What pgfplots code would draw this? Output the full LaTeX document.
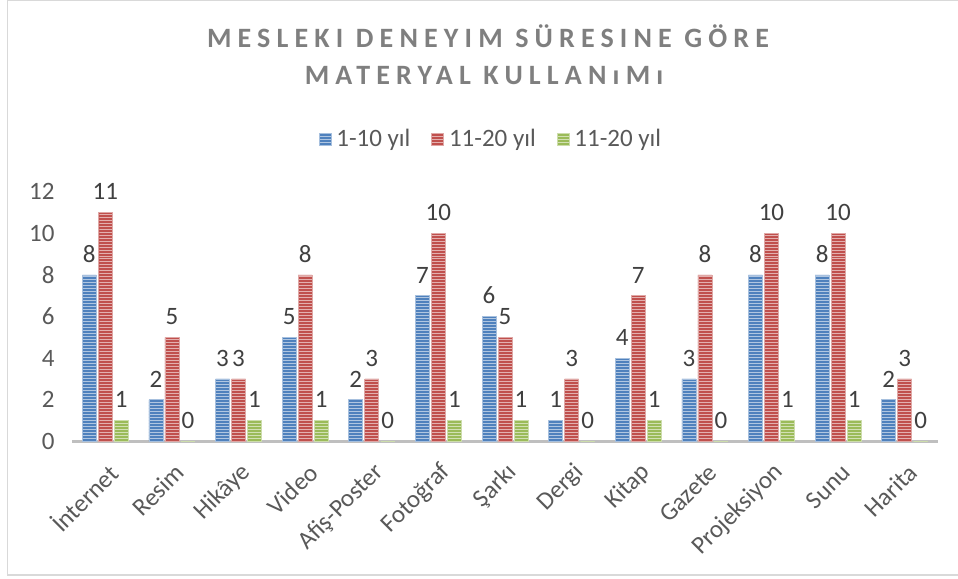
\documentclass[border=0pt]{standalone}
\usepackage{pgfplots}
\pgfplotsset{compat=1.18}
\usepackage{pgfplotstable}
\usepackage{fontspec}
\setmainfont{Carlito}
\newfontfamily\titlefont[LetterSpace=22]{Carlito}
\usetikzlibrary{patterns}
\definecolor{cblue}{HTML}{4F81BD}
\definecolor{cred}{HTML}{C0504D}
\definecolor{cgreen}{HTML}{9BBB59}
\definecolor{tickc}{HTML}{595959}
\definecolor{labc}{HTML}{404040}
\definecolor{ttlc}{HTML}{7F7F7F}
\definecolor{axlc}{HTML}{BFBFBF}
\definecolor{frmc}{HTML}{D9D9D9}
\newcommand\lblfont{\fontsize{25bp}{29bp}\selectfont}

\pgfplotstableread{
x a b c
0 8 11 1
1 2 5 0
2 3 3 1
3 5 8 1
4 2 3 0
5 7 10 1
6 6 5 1
7 1 3 0
8 4 7 1
9 3 8 0
10 8 10 1
11 8 10 1
12 2 3 0
}\datatable

\begin{document}
\begin{tikzpicture}
\useasboundingbox (0,0) rectangle (958bp,579bp);
\draw[frmc, line width=1.2bp] (958bp,578.5bp) -- (7.5bp,578.5bp) -- (7.5bp,4bp) -- (958bp,4bp);
\node[text=ttlc, font={\titlefont\bfseries\fontsize{28bp}{32bp}\selectfont}] at (488bp,543bp) {MESLEKI DENEYIM SÜRESINE GÖRE};
\node[text=ttlc, font={\titlefont\bfseries\fontsize{28bp}{32bp}\selectfont}] at (484bp,503bp) {MATERYAL KULLANıMı};
\begin{axis}[
  at={(72bp,137.6bp)}, anchor=south west,
  scale only axis, width=866bp, height=249.6bp,
  xmin=-0.5, xmax=12.5, ymin=0, ymax=12,
  ybar=2bp, bar width=14bp,
  xtick={0,...,12},
  xticklabels={İnternet,Resim,Hikâye,Video,Afiş-Poster,Fotoğraf,Şarkı,Dergi,Kitap,Gazete,Projeksiyon,Sunu,Harita},
  ytick={0,2,...,12},
  axis x line*=bottom, axis y line*=left,
  y axis line style={draw=none},
  x axis line style={draw=axlc, line width=3bp, -},
  major tick length=0pt,
  /pgf/number format/assume math mode=true,
  tick label style={font=\lblfont, text=tickc},
  xticklabel style={rotate=45, anchor=east, yshift=-25bp, xshift=-10bp},
  yticklabel style={xshift=-14bp},
  nodes near coords,
  nodes near coords style={font=\lblfont, text=labc, yshift=9bp},
  legend style={at={(0.4838,1.2115)}, anchor=center, draw=none, fill=none,
    legend columns=3, font=\lblfont, text=tickc,
    /tikz/every odd column/.append style={column sep=3bp},
    /tikz/every even column/.append style={column sep=19bp}},
  legend image code/.code={\draw[#1, draw=none] (0bp,-6bp) rectangle (12bp,6bp);},
  clip=false,
]
\addplot[fill=cblue, draw=cblue!50!white, line width=0.6bp, postaction={pattern=horizontal lines, pattern color=cblue!45!white}] table[x=x,y=a]{\datatable};
\addplot[fill=cred, draw=cred!50!white, line width=0.6bp, postaction={pattern=horizontal lines, pattern color=cred!45!white}] table[x=x,y=b]{\datatable};
\addplot[fill=cgreen, draw=cgreen!50!white, line width=0.6bp, postaction={pattern=horizontal lines, pattern color=cgreen!45!white}] table[x=x,y=c]{\datatable};
\legend{1-10 yıl, 11-20 yıl, 11-20 yıl}
\end{axis}
\end{tikzpicture}
\end{document}
